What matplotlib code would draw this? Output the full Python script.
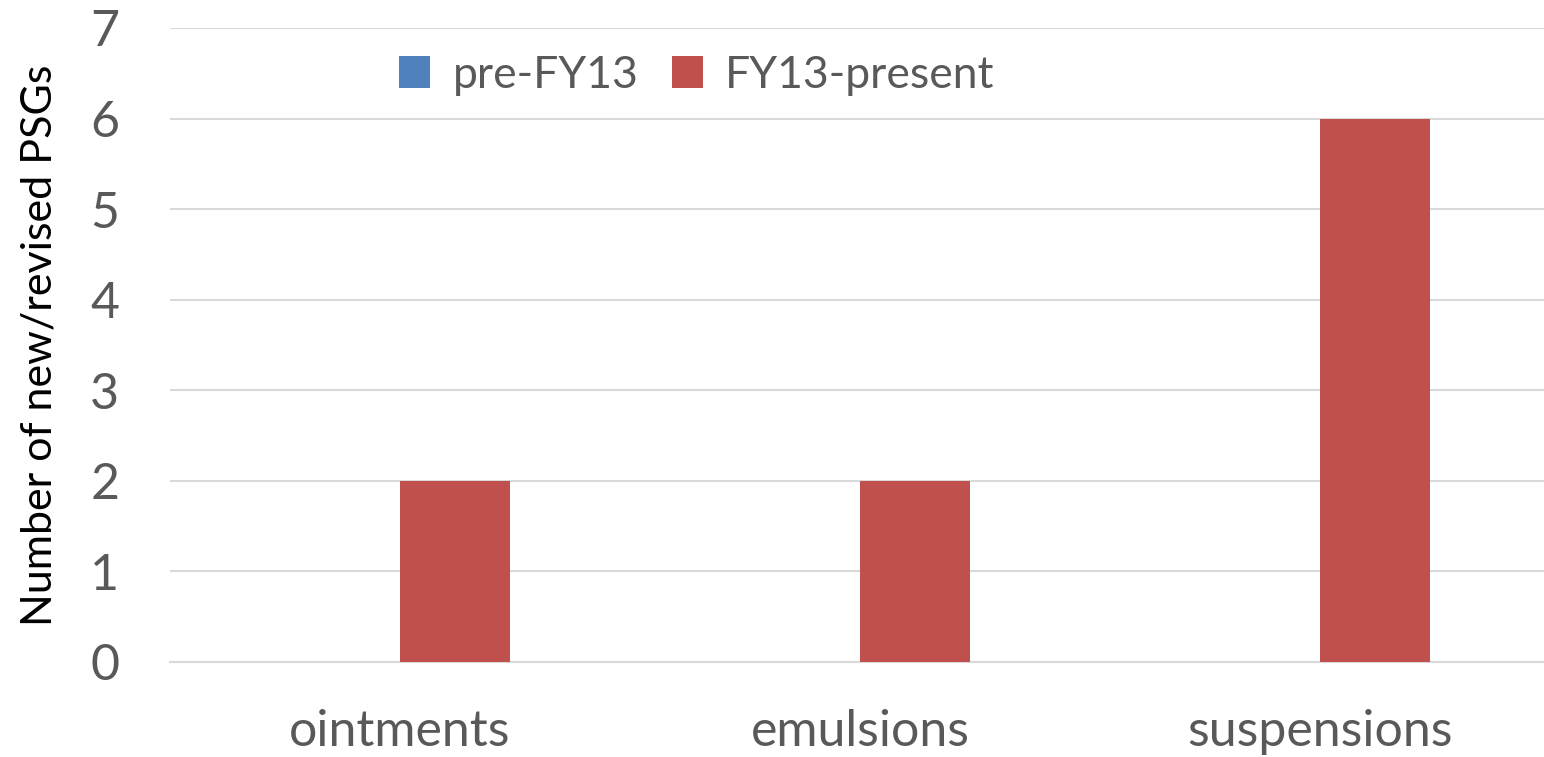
import matplotlib
matplotlib.use("Agg")
import matplotlib.pyplot as plt
import numpy as np

categories = ["ointments", "emulsions", "suspensions"]
pre_fy13 = [0, 0, 0]
fy13_present = [2, 2, 6]
series_names = ["pre-FY13", "FY13-present"]
yticks = [0, 1, 2, 3, 4, 5, 6, 7]

plt.rcParams['font.family'] = ['Lato', 'DejaVu Sans']

W, H = 1544, 757
fig = plt.figure(figsize=(W/100, H/100), dpi=100)
ax = fig.add_axes([170/W, 95/H, 1380/W, (662-28)/H])

x = np.arange(len(categories))
bw = 0.239
ax.bar(x - bw/2, pre_fy13, bw, color="#4F81BD", label=series_names[0], zorder=3)
ax.bar(x + bw/2, fy13_present, bw, color="#C0504D", label=series_names[1], zorder=3)

ax.set_xlim(-0.5, 2.5)
ax.set_ylim(0, 7)
ax.set_yticks(yticks)
ax.set_xticks(x)
ax.set_xticklabels(categories)
ax.grid(axis='y', color="#D9D9D9", linewidth=1.5, zorder=0)
for s in ["top", "right", "left"]:
    ax.spines[s].set_visible(False)
ax.spines["bottom"].set_color("#D9D9D9")
ax.spines["bottom"].set_linewidth(1.5)
ax.tick_params(axis='both', length=0, labelsize=36, colors="#595959")
ax.tick_params(axis='x', pad=34)
ax.tick_params(axis='y', pad=47)
for t in ax.get_yticklabels():
    t.set_horizontalalignment('center')
ax.set_ylabel("Number of new/revised PSGs", fontsize=31, color="black", labelpad=23)

leg = ax.legend(loc='center', bbox_to_anchor=((697-170)/1380, (662-75)/634),
                ncol=2, frameon=False, fontsize=32, handlelength=0.7, handleheight=0.7,
                handletextpad=0.5, columnspacing=0.75, labelcolor="#595959")
fig.savefig("out.png", dpi=100)
